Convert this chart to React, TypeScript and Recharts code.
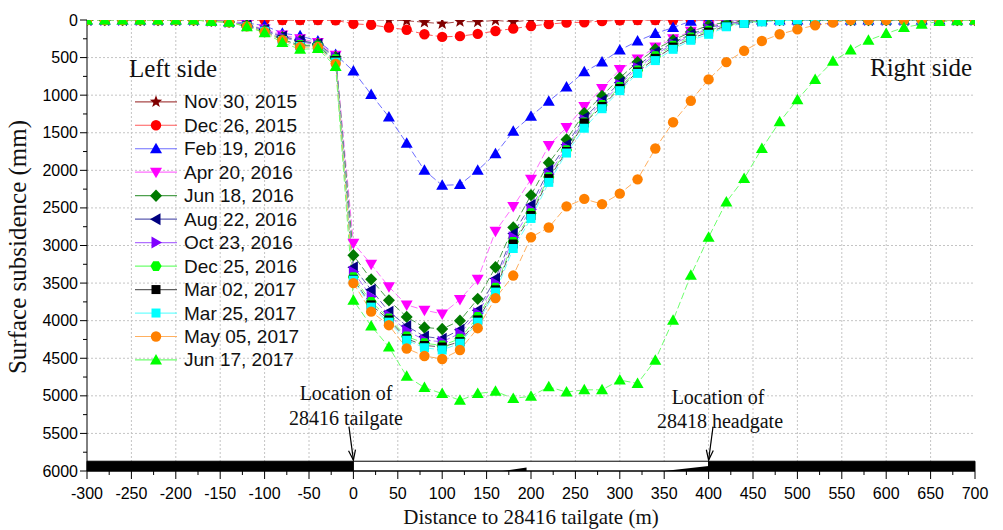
import {
  LineChart,
  Line,
  XAxis,
  YAxis,
  CartesianGrid,
  ReferenceArea,
  ReferenceLine,
  ReferenceDot,
} from "recharts";

// distance to 28416 tailgate (m)
const distances = [
  -300, -280, -260, -240, -220, -200, -180, -160, -140, -120, -100, -80, -60, -40, -20,
  0, 20, 40, 60, 80, 100, 120, 140, 160, 180, 200, 220, 240, 260, 280, 300, 320, 340, 360, 380,
  400, 420, 440, 460, 480, 500, 520, 540, 560, 580, 600, 620, 640, 660, 680, 700,
];

// surface subsidence (mm), one array per survey date
const nov30 = [
  0, 0, 0, 0, 0, 0, 0, 0, 0, 0, 0, 0, 0, 0, 0,
  0, 0, 0, 10, 30, 50, 20, 25, 5, 25, 0, 15, 0, 0, 0, 0, 0, 0, 0, 0,
  0, 0, 0, 0, 0, 0, 0, 0, 0, 0, 0, 0, 0, 0, 0, 0,
];
const dec26 = [
  0, 0, 0, 0, 0, 0, 0, 0, 0, 0, 0, 0, 0, 0, 5,
  50, 65, 100, 130, 190, 225, 215, 185, 146, 115, 80, 55, 35, 30, 15, 5, 0, 0, 0, 0,
  0, 0, 0, 0, 0, 0, 0, 0, 0, 0, 0, 0, 0, 0, 0, 0,
];
const feb19 = [
  0, 0, 0, 0, 0, 0, 0, 10, 20, 40, 75, 175, 210, 280, 460,
  680, 990, 1290, 1640, 2000, 2200, 2190, 2000, 1780, 1480, 1280, 1080, 890, 690, 560, 400, 280, 180, 100, 15,
  0, 0, 0, 0, 0, 0, 0, 0, 0, 0, 0, 0, 0, 0, 0, 0,
];
const apr20 = [
  0, 0, 0, 0, 0, 0, 0, 10, 20, 60, 120, 200, 250, 300, 470,
  2970, 3250, 3550, 3790, 3860, 3910, 3720, 3450, 2810, 2480, 2120, 1670, 1430, 1150, 910, 660, 520, 360, 250, 150,
  80, 40, 20, 10, 0, 0, 0, 0, 0, 0, 0, 0, 0, 0, 0, 0,
];
const jun18 = [
  0, 0, 0, 0, 0, 0, 0, 10, 25, 70, 140, 230, 280, 320, 490,
  3130, 3450, 3730, 3950, 4090, 4110, 4000, 3710, 3290, 2760, 2330, 1900, 1590, 1240, 1010, 770, 560, 390, 270, 160,
  70, 30, 15, 5, 0, 0, 0, 0, 0, 0, 0, 0, 0, 0, 0, 0,
];
const aug22 = [
  0, 0, 0, 0, 0, 0, 0, 10, 25, 70, 130, 220, 270, 320, 500,
  3290, 3590, 3880, 4070, 4210, 4240, 4120, 3860, 3440, 2840, 2460, 2000, 1660, 1300, 1070, 830, 610, 430, 300, 190,
  100, 50, 25, 10, 0, 0, 0, 0, 0, 0, 0, 0, 0, 0, 0, 0,
];
const oct23 = [
  0, 0, 0, 0, 0, 0, 0, 10, 25, 75, 140, 230, 290, 330, 500,
  3350, 3680, 3930, 4130, 4260, 4280, 4170, 3900, 3500, 2890, 2520, 2050, 1700, 1330, 1100, 860, 640, 460, 320, 210,
  120, 60, 30, 10, 0, 0, 0, 0, 0, 0, 0, 0, 0, 0, 0, 0,
];
const dec25 = [
  0, 0, 0, 0, 0, 0, 0, 15, 30, 80, 150, 260, 330, 340, 520,
  3420, 3750, 3970, 4210, 4300, 4330, 4240, 3950, 3560, 2950, 2570, 2090, 1730, 1360, 1130, 890, 670, 480, 340, 230,
  140, 70, 35, 15, 0, 0, 0, 0, 0, 0, 0, 0, 0, 0, 0, 0,
];
const mar02 = [
  0, 0, 0, 0, 0, 0, 0, 15, 30, 80, 150, 260, 340, 350, 540,
  3450, 3790, 3990, 4240, 4330, 4350, 4280, 3990, 3590, 2980, 2600, 2110, 1750, 1370, 1150, 910, 690, 510, 360, 250,
  160, 80, 40, 20, 0, 0, 0, 0, 0, 0, 0, 0, 0, 0, 0, 0,
];
const mar25 = [
  0, 0, 0, 0, 0, 0, 0, 15, 30, 85, 150, 270, 350, 360, 560,
  3460, 3820, 4020, 4260, 4360, 4390, 4300, 4020, 3620, 3040, 2640, 2160, 1770, 1440, 1180, 940, 710, 540, 390, 270,
  190, 90, 45, 25, 10, 0, 0, 0, 0, 0, 0, 0, 0, 0, 0, 0,
];
const may05 = [
  0, 0, 0, 0, 0, 0, 0, 15, 30, 85, 160, 270, 360, 360, 580,
  3500, 3880, 4060, 4370, 4470, 4510, 4390, 4100, 3700, 3400, 2890, 2760, 2480, 2380, 2450, 2310, 2120, 1710, 1360, 1075,
  790, 560, 410, 280, 190, 125, 70, 35, 0, 0, 0, 0, 0, 0, 0, 0,
];
const jun17 = [
  0, 0, 0, 0, 0, 0, 0, 20, 30, 90, 170, 300, 390, 380, 620,
  3730, 4070, 4350, 4740, 4890, 4970, 5060, 4970, 4940, 5035, 5005, 4880, 4950, 4920, 4920, 4790, 4835, 4525, 3995, 3395,
  2890, 2420, 2110, 1710, 1355, 1060, 790, 550, 400, 270, 180, 100, 55, 20, 10, 0,
];

const xMajorTicks = [-300, -250, -200, -150, -100, -50, 0, 50, 100, 150, 200, 250, 300, 350, 400, 450, 500, 550, 600, 650, 700];
const xMinorTicks = [-275, -225, -175, -125, -75, -25, 25, 75, 125, 175, 225, 275, 325, 375, 425, 475, 525, 575, 625, 675];
const yMajorTicks = [0, 500, 1000, 1500, 2000, 2500, 3000, 3500, 4000, 4500, 5000, 5500, 6000];
const yMinorTicks = [250, 750, 1250, 1750, 2250, 2750, 3250, 3750, 4250, 4750, 5250, 5750];
const xGrid = [-250, -200, -150, -100, -50, 0, 50, 100, 150, 200, 250, 300, 350, 400, 450, 500, 550, 600, 650];
const yGrid = [500, 1000, 1500, 2000, 2500, 3000, 3500, 4000, 4500, 5000, 5500];

const series = [
  { key: "nov30", name: "Nov 30, 2015", values: nov30, color: "#800000", line: "#a84848", shape: "star" },
  { key: "dec26", name: "Dec 26, 2015", values: dec26, color: "#ff0000", line: "#ff5a5a", shape: "circle" },
  { key: "feb19", name: "Feb 19, 2016", values: feb19, color: "#0000ff", line: "#6e6eff", shape: "up" },
  { key: "apr20", name: "Apr 20, 2016", values: apr20, color: "#ff00ff", line: "#ff6eff", shape: "down" },
  { key: "jun18", name: "Jun 18, 2016", values: jun18, color: "#007a00", line: "#4ea04e", shape: "diamond" },
  { key: "aug22", name: "Aug 22, 2016", values: aug22, color: "#000080", line: "#5c5cb0", shape: "left" },
  { key: "oct23", name: "Oct 23, 2016", values: oct23, color: "#8000ff", line: "#b070ff", shape: "right" },
  { key: "dec25", name: "Dec 25, 2016", values: dec25, color: "#00ff00", line: "#6eff6e", shape: "hexagon" },
  { key: "mar02", name: "Mar 02, 2017", values: mar02, color: "#000000", line: "#606060", shape: "square" },
  { key: "mar25", name: "Mar 25, 2017", values: mar25, color: "#00ffff", line: "#6effff", shape: "square" },
  { key: "may05", name: "May 05, 2017", values: may05, color: "#ff8000", line: "#ffb060", shape: "circle" },
  { key: "jun17", name: "Jun 17, 2017", values: jun17, color: "#00ff00", line: "#6eff6e", shape: "up" },
];

const data = distances.map((d, i) => {
  const row: Record<string, number> = { d };
  series.forEach((s) => {
    row[s.key] = s.values[i];
  });
  return row;
});

const SANS = "'Liberation Sans', Arial, sans-serif";
const SERIF = "'Liberation Serif', 'Times New Roman', serif";

function Marker({ shape, x, y, color }: { shape: string; x: number; y: number; color: string }) {
  if (x == null || y == null) return null;
  switch (shape) {
    case "circle":
      return <circle cx={x} cy={y} r={5.2} fill={color} />;
    case "square":
      return <rect x={x - 4.5} y={y - 4.5} width={9} height={9} fill={color} />;
    case "up":
      return <polygon points={`${x},${y - 6} ${x - 6},${y + 4.5} ${x + 6},${y + 4.5}`} fill={color} />;
    case "down":
      return <polygon points={`${x},${y + 6} ${x - 6},${y - 4.5} ${x + 6},${y - 4.5}`} fill={color} />;
    case "left":
      return <polygon points={`${x - 6},${y} ${x + 4.5},${y - 6} ${x + 4.5},${y + 6}`} fill={color} />;
    case "right":
      return <polygon points={`${x + 6},${y} ${x - 4.5},${y - 6} ${x - 4.5},${y + 6}`} fill={color} />;
    case "diamond":
      return <polygon points={`${x},${y - 6.2} ${x + 6},${y} ${x},${y + 6.2} ${x - 6},${y}`} fill={color} />;
    case "hexagon": {
      const pts = [0, 1, 2, 3, 4, 5]
        .map((k) => {
          const a = (Math.PI / 3) * k;
          return `${x + 5.6 * Math.cos(a)},${y + 5.6 * Math.sin(a)}`;
        })
        .join(" ");
      return <polygon points={pts} fill={color} />;
    }
    case "star": {
      const pts = [];
      for (let k = 0; k < 10; k++) {
        const r = k % 2 === 0 ? 6.5 : 2.7;
        const a = -Math.PI / 2 + (Math.PI / 5) * k;
        pts.push(`${x + r * Math.cos(a)},${y + r * Math.sin(a)}`);
      }
      return <polygon points={pts.join(" ")} fill={color} />;
    }
    default:
      return null;
  }
}

const XTick = (props: any) => {
  const { x, y, payload } = props;
  const major = payload.value % 50 === 0;
  return (
    <g>
      <line x1={x} x2={x} y1={y} y2={y + (major ? 8 : 4)} stroke="#000" strokeWidth={1} />
      {major && (
        <text x={x} y={y + 22} textAnchor="middle" dominantBaseline="central" fontFamily={SANS} fontSize={16} fill="#000">
          {payload.value}
        </text>
      )}
    </g>
  );
};

const YTick = (props: any) => {
  const { x, y, payload } = props;
  const major = payload.value % 500 === 0;
  return (
    <g>
      <line x1={x} x2={x - (major ? 7 : 4)} y1={y} y2={y} stroke="#000" strokeWidth={1} />
      {major && (
        <text x={x - 9} y={y} textAnchor="end" dominantBaseline="central" fontFamily={SANS} fontSize={16} fill="#000">
          {payload.value}
        </text>
      )}
    </g>
  );
};

const wedge = (p: any) => (
  <polygon
    points={`${p.x},${p.y + p.height} ${p.x + p.width},${p.y + p.height} ${p.x + p.width},${p.y}`}
    fill="#000"
  />
);

const arrowHead = (tilt: number) => (p: any) => {
  const { cx, cy } = p;
  return (
    <g transform={`translate(${cx},${cy}) rotate(${-tilt})`}>
      <polyline points="-3.5,-10 0,0 3.5,-10" fill="none" stroke="#000" strokeWidth={1.2} />
    </g>
  );
};

function LegendBox() {
  return (
    <svg width={200} height={290} style={{ position: "absolute", left: 130, top: 90 }}>
      {series.map((s, k) => {
        const cy = 11.8 + k * 23.47;
        return (
          <g key={s.key}>
            <line x1={5} x2={47} y1={cy} y2={cy} stroke={s.line} strokeWidth={1.2} />
            <Marker shape={s.shape} x={26} y={cy} color={s.color} />
            <text x={54} y={cy} dominantBaseline="central" fontFamily={SANS} fontSize={19} fill="#111">
              {s.name}
            </text>
          </g>
        );
      })}
    </svg>
  );
}

export default function App() {
  return (
    <div style={{ position: "absolute", left: 0, top: 0, width: 1003, height: 530, background: "#fff" }}>
      <LineChart width={1003} height={530} data={data} margin={{ top: 20, right: 28, left: 0, bottom: 0 }}>
        <CartesianGrid
          horizontal
          vertical
          horizontalValues={yGrid}
          verticalValues={xGrid}
          stroke="#c4c4c4"
          strokeDasharray="2 2"
        />
        <XAxis
          dataKey="d"
          type="number"
          domain={[-300, 700]}
          ticks={[...xMajorTicks, ...xMinorTicks].sort((a, b) => a - b)}
          interval={0}
          height={59}
          tickSize={0}
          tickMargin={0}
          tickLine={false}
          tick={<XTick />}
          axisLine={{ stroke: "#000", strokeWidth: 1 }}
          allowDataOverflow
        />
        <YAxis
          type="number"
          reversed
          domain={[0, 6000]}
          ticks={[...yMajorTicks, ...yMinorTicks].sort((a, b) => a - b)}
          interval={0}
          width={87}
          tickSize={0}
          tickMargin={0}
          tickLine={false}
          tick={<YTick />}
          axisLine={{ stroke: "#000", strokeWidth: 1 }}
          allowDataOverflow
        />
        <ReferenceArea x1={-300} x2={0} y1={5870} y2={6000} fill="#000" fillOpacity={1} stroke="#000" />
        <ReferenceArea x1={0} x2={400} y1={5870} y2={6000} fill="#fff" fillOpacity={1} stroke="#000" />
        <ReferenceArea x1={400} x2={700} y1={5870} y2={6000} fill="#000" fillOpacity={1} stroke="#000" />
        <ReferenceArea x1={168} x2={195} y1={5952} y2={6000} shape={wedge} />
        <ReferenceArea x1={350} x2={400} y1={5935} y2={6000} shape={wedge} />
        <ReferenceLine segment={[{ x: -5, y: 5410 }, { x: 0, y: 5855 }]} stroke="#000" strokeWidth={1.2} />
        <ReferenceLine segment={[{ x: 405, y: 5410 }, { x: 400, y: 5855 }]} stroke="#000" strokeWidth={1.2} />
        <ReferenceDot x={0} y={5855} r={0} shape={arrowHead(8)} />
        <ReferenceDot x={400} y={5855} r={0} shape={arrowHead(-7)} />
        {series.map((s) => (
          <Line
            key={s.key}
            type="linear"
            dataKey={s.key}
            name={s.name}
            stroke={s.line}
            strokeWidth={1}
            strokeDasharray="7 3"
            dot={(p: any) => <Marker key={`${s.key}-${p.index}`} shape={s.shape} x={p.cx} y={p.cy} color={s.color} />}
            activeDot={false}
            isAnimationActive={false}
          />
        ))}
      </LineChart>

      <LegendBox />

      <svg width={1003} height={530} style={{ position: "absolute", left: 0, top: 0, pointerEvents: "none" }}>
        <text x={173} y={68} textAnchor="middle" dominantBaseline="central" fontFamily={SERIF} fontSize={25} fill="#111">
          Left side
        </text>
        <text x={921} y={67} textAnchor="middle" dominantBaseline="central" fontFamily={SERIF} fontSize={25} fill="#111">
          Right side
        </text>
        <text x={346} y={393} textAnchor="middle" dominantBaseline="central" fontFamily={SERIF} fontSize={20} fill="#111">
          Location of
        </text>
        <text x={346} y={418} textAnchor="middle" dominantBaseline="central" fontFamily={SERIF} fontSize={20} fill="#111">
          28416 tailgate
        </text>
        <text x={718} y={397} textAnchor="middle" dominantBaseline="central" fontFamily={SERIF} fontSize={20} fill="#111">
          Location of
        </text>
        <text x={720} y={421} textAnchor="middle" dominantBaseline="central" fontFamily={SERIF} fontSize={20} fill="#111">
          28418 headgate
        </text>
        <text x={531} y={517} textAnchor="middle" dominantBaseline="central" fontFamily={SERIF} fontSize={21} fill="#111">
          Distance to 28416 tailgate (m)
        </text>
        <text
          x={17}
          y={247}
          textAnchor="middle"
          dominantBaseline="central"
          fontFamily={SERIF}
          fontSize={25}
          fill="#111"
          transform="rotate(-90 17 247)"
        >
          Surface subsidence (mm)
        </text>
      </svg>
    </div>
  );
}
